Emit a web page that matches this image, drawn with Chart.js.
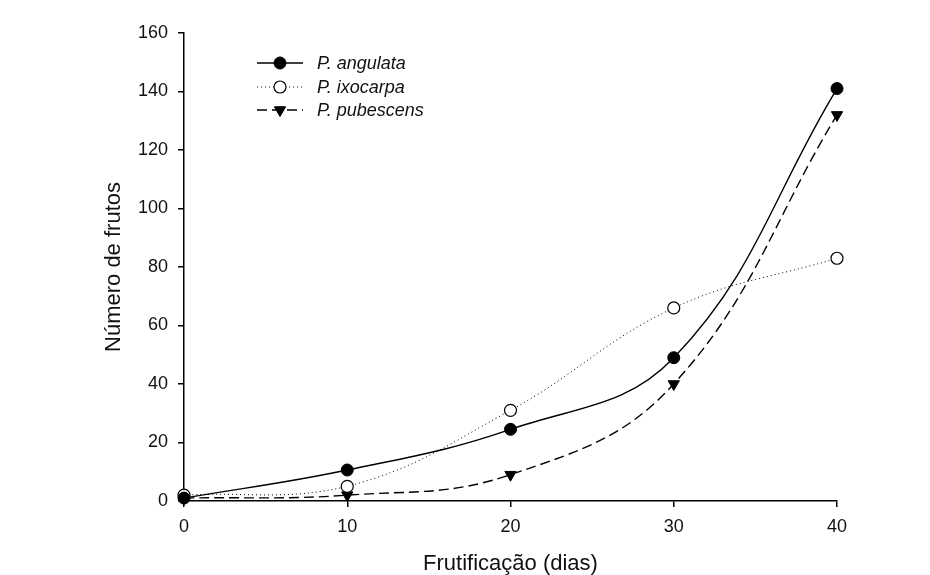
<!DOCTYPE html>
<html>
<head>
<meta charset="utf-8">
<script src="https://cdn.jsdelivr.net/npm/chart.js@4.4.1/dist/chart.umd.min.js"></script>
<style>
  html, body { margin: 0; padding: 0; background: #ffffff; }
  #wrap { width: 930px; height: 575px; position: relative; }
</style>
</head>
<body>
<div id="wrap"><canvas id="c" width="930" height="575"></canvas></div>
<script>
const days = [0, 10, 20, 30, 40];
const angulata = [1, 10.6, 24.5, 49, 141];
const ixocarpa = [2, 5, 31, 66, 83];
const pubescens = [1, 2, 9, 40, 132];
const seriesNames = ['P. angulata', 'P. ixocarpa', 'P. pubescens'];
const yTicks = [0, 20, 40, 60, 80, 100, 120, 140, 160];
const xTicks = [0, 10, 20, 30, 40];

const toPts = arr => days.map((d, i) => ({ x: d, y: arr[i] }));

const FONT = '"Liberation Sans", Arial, sans-serif';

const legendPlugin = {
  id: 'customLegend',
  afterDraw(chart) {
    const ctx = chart.ctx;
    const x0 = 257, x1 = 303, tx = 317;
    const rows = [63, 87, 110];
    chart.data.datasets.forEach((ds, i) => {
      const y = rows[i];
      ctx.save();
      ctx.strokeStyle = ds.borderColor;
      ctx.lineWidth = ds.borderWidth;
      ctx.setLineDash(ds.borderDash || []);
      ctx.beginPath();
      ctx.moveTo(x0, y);
      ctx.lineTo(x1, y);
      ctx.stroke();
      ctx.setLineDash([]);
      ctx.fillStyle = ds.pointBackgroundColor;
      ctx.strokeStyle = ds.pointBorderColor;
      ctx.lineWidth = ds.pointBorderWidth;
      Chart.helpers.drawPoint(ctx, {
        pointStyle: ds.pointStyle,
        rotation: ds.pointRotation || 0,
        radius: ds.pointRadius,
        borderWidth: ds.pointBorderWidth
      }, (x0 + x1) / 2, y);
      ctx.fillStyle = '#111';
      ctx.font = 'italic 18px ' + FONT;
      ctx.textBaseline = 'middle';
      ctx.textAlign = 'left';
      ctx.fillText(ds.label, tx, y + 1);
      ctx.restore();
    });
  }
};

const bgPlugin = {
  id: 'bg',
  beforeDraw(chart) {
    const ctx = chart.ctx;
    ctx.save();
    ctx.fillStyle = '#fff';
    ctx.fillRect(0, 0, chart.width, chart.height);
    ctx.restore();
  }
};

new Chart(document.getElementById('c'), {
  type: 'line',
  data: {
    datasets: [
      {
        label: seriesNames[0],
        data: toPts(angulata),
        borderColor: '#000',
        borderWidth: 1.4,
        pointStyle: 'circle',
        pointRadius: 6,
        pointBackgroundColor: '#000',
        pointBorderColor: '#000',
        pointBorderWidth: 1,
        tension: 0.4,
        clip: false
      },
      {
        label: seriesNames[1],
        data: toPts(ixocarpa),
        borderColor: '#000',
        borderWidth: 1,
        borderDash: [1, 3],
        pointStyle: 'circle',
        pointRadius: 6,
        pointBackgroundColor: '#fff',
        pointBorderColor: '#000',
        pointBorderWidth: 1.2,
        tension: 0.4,
        clip: false
      },
      {
        label: seriesNames[2],
        data: toPts(pubescens),
        borderColor: '#000',
        borderWidth: 1.4,
        borderDash: [10, 5],
        pointStyle: 'triangle',
        pointRotation: 180,
        pointRadius: 6.5,
        pointBackgroundColor: '#000',
        pointBorderColor: '#000',
        pointBorderWidth: 1,
        tension: 0.4,
        clip: false
      }
    ]
  },
  options: {
    responsive: false,
    animation: false,
    devicePixelRatio: 1,
    layout: { padding: { left: 0, right: 93, top: 33, bottom: 0 } },
    plugins: {
      legend: { display: false },
      tooltip: { enabled: false }
    },
    scales: {
      x: {
        type: 'linear',
        min: 0,
        max: 40,
        afterFit(s) { s.height = 74; },
        afterBuildTicks(s) { s.ticks = xTicks.map(v => ({ value: v })); },
        border: { display: true, color: '#000', width: 1.5 },
        grid: { display: true, drawOnChartArea: false, drawTicks: true, tickLength: 6, color: '#000', lineWidth: 1.5 },
        ticks: { color: '#111', font: { family: FONT, size: 18 }, padding: 9, maxRotation: 0 },
        title: { display: true, text: 'Frutificação (dias)', color: '#111', font: { family: FONT, size: 22 }, padding: { top: 0, bottom: -2 } }
      },
      y: {
        type: 'linear',
        min: 0,
        max: 160,
        afterFit(s) { s.width = 184; },
        afterBuildTicks(s) { s.ticks = yTicks.map(v => ({ value: v })); },
        border: { display: true, color: '#000', width: 1.5 },
        grid: { display: true, drawOnChartArea: false, drawTicks: true, tickLength: 6, color: '#000', lineWidth: 1.5 },
        ticks: { color: '#111', font: { family: FONT, size: 18 }, padding: 10 },
        title: { display: true, text: 'Número de frutos', color: '#111', font: { family: FONT, size: 22 }, padding: { top: 101, bottom: 0 } }
      }
    }
  },
  plugins: [bgPlugin, legendPlugin]
});
</script>
</body>
</html>
